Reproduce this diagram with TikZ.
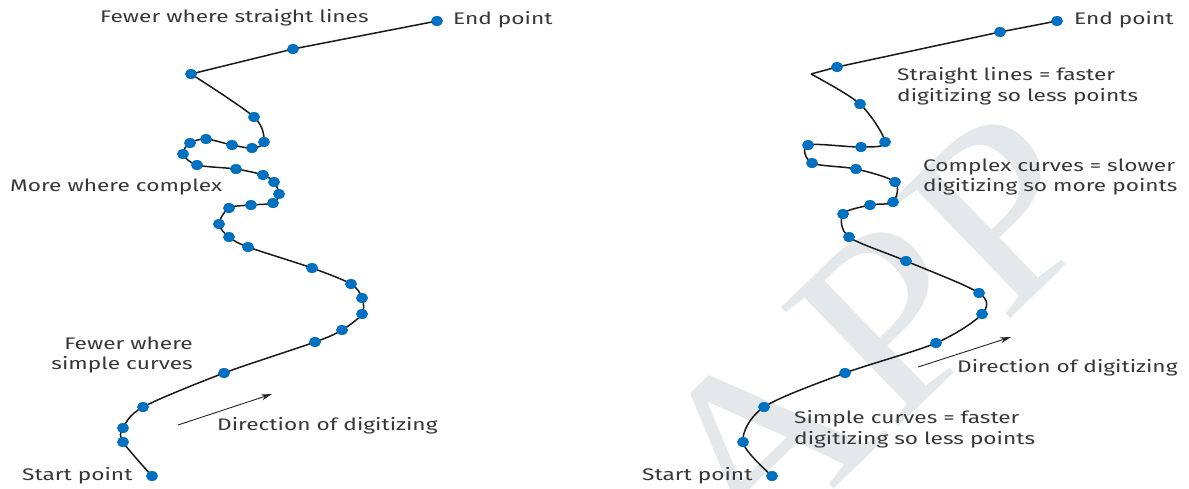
\documentclass[tikz,border=0pt]{standalone}
\usepackage{fontspec}
\setmainfont[FakeStretch=1.35]{Fira Sans}
\newfontfamily\wmfont[FakeStretch=1.1]{Liberation Serif}
\usetikzlibrary{shapes.geometric,arrows.meta}
\definecolor{dotblue}{RGB}{0,112,192}
\definecolor{txtgray}{RGB}{55,55,55}
\definecolor{wmgray}{RGB}{229,232,235}
\tikzset{
  dot/.style={ellipse, fill=dotblue, draw=none, inner sep=0pt, minimum width=12pt, minimum height=10pt},
  curve/.style={draw=black!90, line width=1.5pt, line join=round},
  lbl/.style={text=txtgray, inner sep=0pt, font=\fontsize{16.8}{20.5}\selectfont},
  dirarrow/.style={draw=black!85, line width=0.9pt, -{Stealth[length=11pt,width=6pt]}},
}
\begin{document}
\begin{tikzpicture}[x=1pt,y=-1pt]
\useasboundingbox (0,0) rectangle (1189,488);
% watermark
\node[rotate=44, text=wmgray, inner sep=0pt, font=\fontsize{255}{255}\wmfont] (wm) at (872,335) {APP};

% ---------- left figure ----------
\foreach \n/\x/\y in {1/152/476,2/123/442,3/123/428,4/143/407,5/224/373,6/315/342,7/342/330,8/362/314,9/362/298,10/351/284,11/312/268,12/248/247,13/229/237,14/219/224,15/229/208,16/251/205,17/273/203,18/279/194,19/274/182,20/263/175,21/236/169,22/197/165,23/183/154,24/190/143,25/206/139,26/232/145,27/252/148,28/264/142,29/254/117,30/191/74,31/293/49,32/437/21}
  \coordinate (l\n) at (\x,\y);
\draw[curve] plot[smooth, tension=0.5] coordinates {(l1) (l2) (l3) (l4) (l5) (l6) (l7) (l8) (l9) (l10) (l11) (l12) (l13) (l14) (l15) (l16) (l17) (l18) (l19) (l20) (l21) (l22) (l23) (l24) (l25) (l26) (l27) (l28) (l29) (l30)};
\draw[curve] (l30) -- (l31) -- (l32);
\foreach \n in {1,...,32} \node[dot] (L\n) at (l\n) {};

\node[lbl, anchor=west] (tl1) at (100,18) {Fewer where straight lines};
\node[lbl, anchor=west] (tl2) at (453,20) {End point};
\node[lbl, anchor=west] (tl3) at (10,187) {More where complex};
\node[lbl, anchor=east, align=right] (tl4) at (193,355) {Fewer where\\simple curves};
\node[lbl, anchor=west] (tl5) at (217,426) {Direction of digitizing};
\node[lbl, anchor=west] (tl6) at (22,476) {Start point};
\coordinate (la1) at (178,425);
\coordinate (la2) at (272,394);
\draw[dirarrow] (la1) -- (la2);

% ---------- right figure ----------
\foreach \n/\x/\y in {1/772/476,2/743/442,3/764/407,4/845/373,5/936/343,6/982/314,7/979/293,8/906/261,9/849/237,10/843/214,11/870/205,12/893/202,13/895/182,14/856/169,15/812/163,16/808/145,17/861/147,18/885/142,19/860/104,20/837/67,21/1000/32,22/1057/21}
  \coordinate (r\n) at (\x,\y);
\coordinate (rc) at (811,74);
\draw[curve] plot[smooth, tension=0.5] coordinates {(r1) (r2) (r3) (r4) (r5) (r6) (r7) (r8) (r9) (r10) (r11) (r12) (r13) (r14) (r15) (r16) (r17) (r18) (r19) (rc)};
\draw[curve] (rc) -- (r20) -- (r21) -- (r22);
\foreach \n in {1,...,22} \node[dot] (R\n) at (r\n) {};

\node[lbl, anchor=west] (tr1) at (1074,20) {End point};
\node[lbl, anchor=west, align=left] (tr2) at (897,86) {Straight lines = faster\\digitizing so less points};
\node[lbl, anchor=west, align=left] (tr3) at (923,177) {Complex curves = slower\\digitizing so more points};
\node[lbl, anchor=west] (tr4) at (957,368) {Direction of digitizing};
\node[lbl, anchor=west, align=left] (tr5) at (794,429) {Simple curves = faster\\digitizing so less points};
\node[lbl, anchor=west] (tr6) at (642,476) {Start point};
\coordinate (ra1) at (918,367);
\coordinate (ra2) at (1011,337);
\draw[dirarrow] (ra1) -- (ra2);
\end{tikzpicture}
\end{document}
